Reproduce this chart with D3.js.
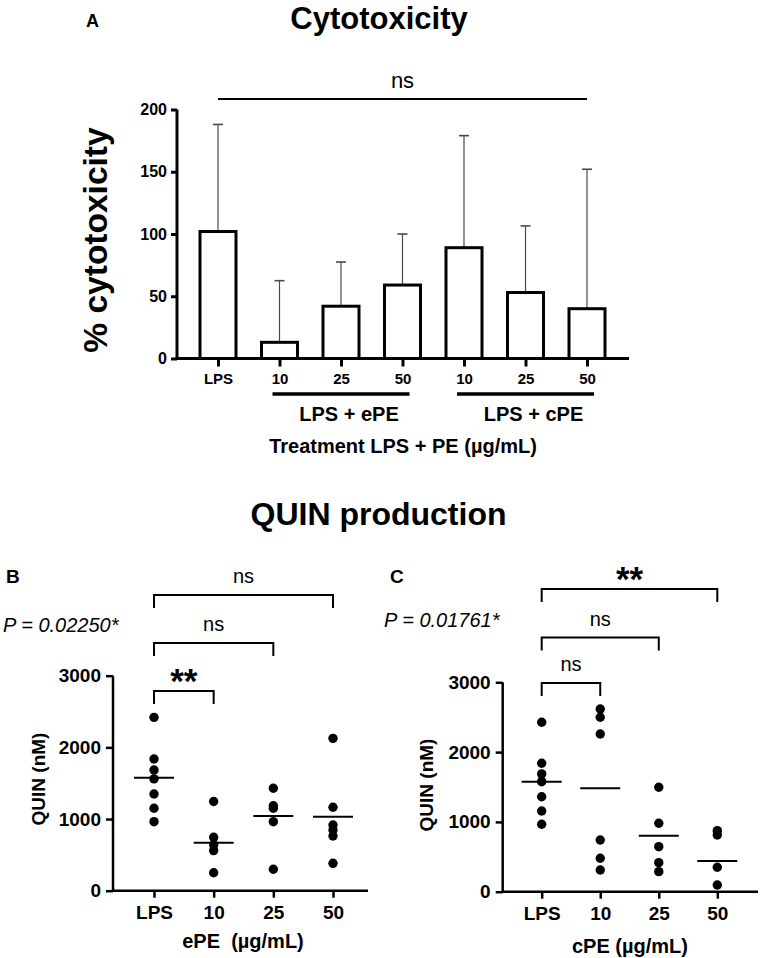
<!DOCTYPE html>
<html>
<head>
<meta charset="utf-8">
<script src="https://cdn.jsdelivr.net/npm/d3@7"></script>
<style>
  body { margin: 0; background: #fff; }
  svg { display: block; font-family: "Liberation Sans", Arial, sans-serif; }
</style>
</head>
<body>
<div id="chart"></div>
<script>
// ---- data ----
const cytoGroups = ["LPS", "ePE 10", "ePE 25", "ePE 50", "cPE 10", "cPE 25", "cPE 50"];
const cytoTickLabels = ["LPS", "10", "25", "50", "10", "25", "50"];
const cytoMean = [102, 13, 42, 59, 89, 53, 40];
const cytoSD = [86, 49.5, 35.5, 41, 90, 53.5, 112];
const cytoTicks = [0, 50, 100, 150, 200];

const quinGroups = ["LPS", "10", "25", "50"];
const quinTicks = [0, 1000, 2000, 3000];
const ePEPoints = [
  [2419, 1838, 1684, 1560, 1349, 1150, 963],
  [1245, 745, 640, 560, 250],
  [1429, 1186, 1150, 963, 299],
  [2126, 1164, 917, 847, 763, 382]
];
const ePEMeans = [1577, 670, 1042, 1033];
const cPEPoints = [
  [2427, 1840, 1687, 1576, 1361, 1156, 966],
  [2618, 2499, 2260, 741, 479, 311],
  [1496, 980, 645, 416, 287],
  [874, 812, 350, 96]
];
const cPEMeans = [1576, 1482, 802, 440];

const W = 761, H = 958;
const svg = d3.select("#chart").append("svg")
  .attr("width", W)
  .attr("height", H);

// ================= Panel A : cytotoxicity bars =================
const xA = d3.scalePoint().domain(cytoGroups).range([218, 587]);
const yA = d3.scaleLinear().domain([0, 200]).range([358.5, 109.5]);
const barW = 36;

svg.append("text").attr("x", 86).attr("y", 27)
  .style("font-size", "18px").style("font-weight", "bold").text("A");

svg.append("text").attr("x", 379).attr("y", 29)
  .attr("text-anchor", "middle")
  .style("font-size", "31px").style("font-weight", "bold")
  .text("Cytotoxicity");

// y axis
const gYA = svg.append("g").attr("transform", "translate(177,0)")
  .call(d3.axisLeft(yA).tickValues(cytoTicks).tickSize(6).tickPadding(4));
gYA.select(".domain").attr("stroke-width", 3).attr("d", `M0,${yA(200)}V${yA(0)}`);
gYA.selectAll(".tick line").attr("stroke-width", 3);
gYA.selectAll(".tick text").style("font-size", "16px").style("font-weight", "bold");

svg.append("text")
  .attr("transform", "translate(107,240) rotate(-90)")
  .attr("text-anchor", "middle")
  .style("font-size", "33.5px").style("font-weight", "bold")
  .text("% cytotoxicity");

// error bars (drawn first, bars cover lower part)
const errG = svg.append("g");
cytoGroups.forEach((g, i) => {
  const cx = xA(g);
  errG.append("line")
    .attr("x1", cx).attr("x2", cx)
    .attr("y1", yA(cytoMean[i])).attr("y2", yA(cytoMean[i] + cytoSD[i]))
    .attr("stroke", "#4a4a4a").attr("stroke-width", 1.2);
  errG.append("line")
    .attr("x1", cx - 5).attr("x2", cx + 5)
    .attr("y1", yA(cytoMean[i] + cytoSD[i])).attr("y2", yA(cytoMean[i] + cytoSD[i]))
    .attr("stroke", "#4a4a4a").attr("stroke-width", 1.6);
});

// bars
svg.append("g").selectAll("rect")
  .data(cytoGroups)
  .join("rect")
  .attr("x", d => xA(d) - barW / 2)
  .attr("width", barW)
  .attr("y", (d, i) => yA(cytoMean[i]))
  .attr("height", (d, i) => yA(0) - yA(cytoMean[i]))
  .attr("fill", "white")
  .attr("stroke", "black")
  .attr("stroke-width", 3);

// x axis
const gXA = svg.append("g").attr("transform", `translate(0,${yA(0)})`)
  .call(d3.axisBottom(xA).tickSize(8).tickPadding(6).tickFormat((d, i) => cytoTickLabels[i]));
gXA.select(".domain").attr("stroke-width", 3).attr("d", "M175.5,0H629");
gXA.selectAll(".tick line").attr("stroke-width", 3);
gXA.selectAll(".tick text")
  .style("font-weight", "bold")
  .style("font-size", "15px")
  .attr("y", 15).attr("dy", "0.71em");

// group underlines + labels
[["ePE 10", "ePE 50", "LPS + ePE"], ["cPE 10", "cPE 50", "LPS + cPE"]].forEach(([a, b, lab]) => {
  svg.append("line")
    .attr("x1", xA(a) - 7).attr("x2", xA(b) + 7)
    .attr("y1", 394).attr("y2", 394)
    .attr("stroke", "black").attr("stroke-width", 3.3);
  svg.append("text")
    .attr("x", (xA(a) + xA(b)) / 2 + 8).attr("y", 421)
    .attr("text-anchor", "middle")
    .style("font-size", "20px").style("font-weight", "bold")
    .text(lab);
});

svg.append("text").attr("x", 403).attr("y", 453)
  .attr("text-anchor", "middle")
  .style("font-size", "20px").style("font-weight", "bold")
  .text("Treatment LPS + PE (µg/mL)");

// ns line over all bars
svg.append("line")
  .attr("x1", xA("LPS")).attr("x2", xA("cPE 50"))
  .attr("y1", 99).attr("y2", 99)
  .attr("stroke", "black").attr("stroke-width", 2.2);
svg.append("text").attr("x", (xA("LPS") + xA("cPE 50")) / 2).attr("y", 88)
  .attr("text-anchor", "middle")
  .style("font-size", "22px")
  .text("ns");

// ================= QUIN production =================
svg.append("text").attr("x", 378.5).attr("y", 525)
  .attr("text-anchor", "middle")
  .style("font-size", "32px").style("font-weight", "bold")
  .text("QUIN production");

function quinPanel(opt) {
  const x = d3.scalePoint().domain(quinGroups).range(opt.xRange);
  const y = d3.scaleLinear().domain([0, 3000]).range(opt.yRange);
  const g = svg.append("g");

  g.append("text").attr("x", opt.letterX).attr("y", 583)
    .style("font-size", "19px").style("font-weight", "bold").text(opt.letter);

  g.append("text").attr("x", opt.pX).attr("y", opt.pY)
    .style("font-size", "20px").style("font-style", "italic")
    .text(opt.pText);

  // axes
  const gy = g.append("g").attr("transform", `translate(${opt.axisX},0)`)
    .call(d3.axisLeft(y).tickValues(quinTicks).tickFormat(d3.format("d")).tickSize(7).tickPadding(5));
  gy.select(".domain").attr("stroke-width", 2.5).attr("d", `M0,${y(3000)}V${y(0)}`);
  gy.selectAll(".tick line").attr("stroke-width", 2.5);
  gy.selectAll(".tick text").style("font-size", "19px").style("font-weight", "bold");

  const gx = g.append("g").attr("transform", `translate(0,${y(0)})`)
    .call(d3.axisBottom(x).tickSize(7).tickPadding(8));
  gx.select(".domain").attr("stroke-width", 2.5).attr("d", `M${opt.axisX - 1},0H${opt.axisEnd}`);
  gx.selectAll(".tick line").attr("stroke-width", 2.5);
  gx.selectAll(".tick text").style("font-size", "19px").style("font-weight", "bold");

  g.append("text")
    .attr("transform", `translate(${opt.yTitleX},${opt.yTitleY}) rotate(-90)`)
    .attr("text-anchor", "middle")
    .style("font-size", "19px").style("font-weight", "bold")
    .text("QUIN (nM)");

  g.append("text").attr("x", opt.xTitleX).attr("y", opt.xTitleY)
    .attr("text-anchor", "middle")
    .style("font-size", "20px").style("font-weight", "bold")
    .style("white-space", "pre")
    .text(opt.xTitle);

  // points
  quinGroups.forEach((grp, i) => {
    g.append("g").selectAll("circle")
      .data(opt.points[i])
      .join("circle")
      .attr("cx", x(grp))
      .attr("cy", d => y(d))
      .attr("r", 4.7)
      .attr("fill", "black");
    g.append("line")
      .attr("x1", x(grp) - 20).attr("x2", x(grp) + 20)
      .attr("y1", y(opt.means[i])).attr("y2", y(opt.means[i]))
      .attr("stroke", "black").attr("stroke-width", 2);
  });

  // significance brackets
  opt.brackets.forEach(b => {
    const x1 = x(b.from), x2 = x(b.to);
    g.append("path")
      .attr("d", `M${x1},${b.top + 13}V${b.top}H${x2}V${b.top + 13}`)
      .attr("fill", "none").attr("stroke", "black").attr("stroke-width", 2);
    const t = g.append("text")
      .attr("x", (x1 + x2) / 2)
      .attr("text-anchor", "middle")
      .text(b.label);
    if (b.label === "**") {
      t.attr("y", b.top + 2).style("font-size", "35px").style("font-weight", "bold");
    } else {
      t.attr("y", b.top - 12).style("font-size", "20px");
    }
  });
}

quinPanel({
  letter: "B", letterX: 6,
  pText: "P = 0.02250*", pX: 3, pY: 632,
  xRange: [154, 333], yRange: [890.7, 675.7],
  axisX: 113, axisEnd: 368,
  yTitleX: 45, yTitleY: 779,
  xTitle: "ePE  (µg/mL)", xTitleX: 243, xTitleY: 948,
  points: ePEPoints, means: ePEMeans,
  brackets: [
    { from: "LPS", to: "50", label: "ns", top: 595 },
    { from: "LPS", to: "25", label: "ns", top: 643 },
    { from: "LPS", to: "10", label: "**", top: 691 }
  ]
});

quinPanel({
  letter: "C", letterX: 390,
  pText: "P = 0.01761*", pX: 384, pY: 627,
  xRange: [541.7, 717.3], yRange: [891.7, 682.3],
  axisX: 502.7, axisEnd: 758,
  yTitleX: 433, yTitleY: 785,
  xTitle: "cPE (µg/mL)", xTitleX: 630, xTitleY: 953,
  points: cPEPoints, means: cPEMeans,
  brackets: [
    { from: "LPS", to: "50", label: "**", top: 589 },
    { from: "LPS", to: "25", label: "ns", top: 637.5 },
    { from: "LPS", to: "10", label: "ns", top: 683 }
  ]
});
</script>
</body>
</html>
